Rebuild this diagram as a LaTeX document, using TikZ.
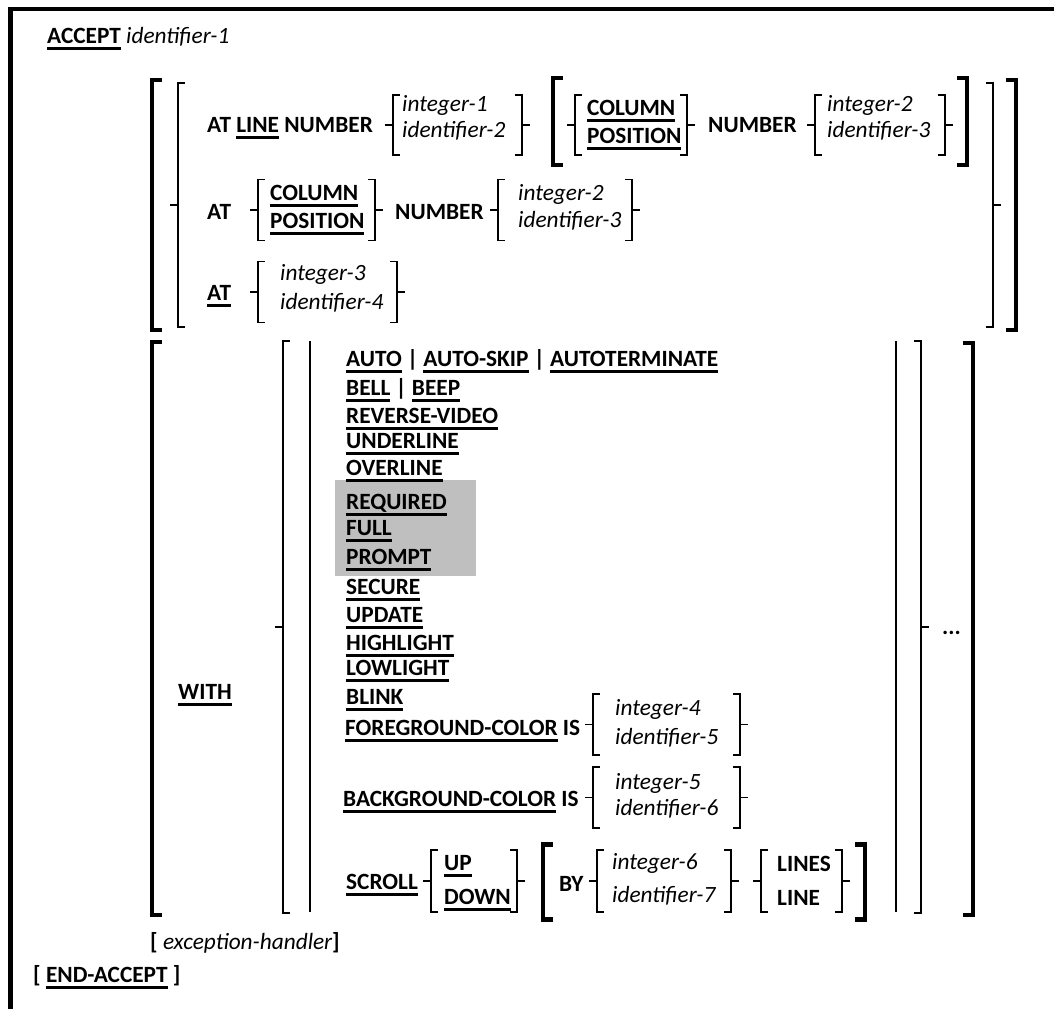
\documentclass[tikz,border=0pt]{standalone}
\usepackage{fontspec}
\setmainfont{Carlito}
\usepackage{tikz}
\newcommand{\kw}[1]{\setbox0\hbox{#1}\rlap{\rule[-6.5pt]{\wd0}{2.5pt}}\box0\relax}
\newcommand{\idf}[1]{{\mdseries\itshape #1}}
\tikzset{
    brthin/.style={line width=1.8pt},
    brthick/.style={line width=4.5pt},
    pics/lbrace/.style={code={\draw[brthin] (7,#1/2) -- (0,#1/2) -- (0,-#1/2) -- (7,-#1/2) (0,0) -- (-8,0);}},
    pics/rbrace/.style={code={\draw[brthin] (-7,#1/2) -- (0,#1/2) -- (0,-#1/2) -- (-7,-#1/2) (0,0) -- (8,0);}},
    pics/lbrack/.style={code={\draw[brthick] (10,#1/2) -- (0,#1/2) -- (0,-#1/2) -- (10,-#1/2);}},
    pics/rbrack/.style={code={\draw[brthick] (-10,#1/2) -- (0,#1/2) -- (0,-#1/2) -- (-10,-#1/2);}}
}
\begin{document}
\begin{tikzpicture}[x=1pt,y=-1pt,
    txt/.style={inner sep=0pt,anchor=west,text height=14.6pt,text depth=0pt,
        font=\fontsize{23.3}{27}\selectfont\bfseries}]
    \useasboundingbox (0,0) rectangle (1054,1009);
    \fill[black!25] (335,480) rectangle (476,576);
    \draw[line width=4.5pt] (10.5,1009) -- (10.5,9) -- (1054,9);

    \node[txt] at (47,36) (accept) {\kw{ACCEPT} \idf{identifier-1}};

    % AT ... phrases
    \pic at (152,205) {lbrack=250};
    \pic at (178,205) {lbrace=244};
    \node[txt] at (207,125) (atline) {AT \kw{LINE} NUMBER};
    \pic at (393,125) {lbrace=60};
    \node[txt] at (402,104) (int1) {\idf{integer-1}};
    \node[txt] at (402,130) (id2) {\idf{identifier-2}};
    \pic at (522,125) {rbrace=60};
    \pic at (553,121.5) {lbrack=87};
    \pic at (575,125) {lbrace=60};
    \node[txt] at (587,108) (col1) {\kw{COLUMN}};
    \node[txt] at (587,136) (pos1) {\kw{POSITION}};
    \pic at (687,125) {rbrace=60};
    \node[txt] at (708,125) (num1) {NUMBER};
    \pic at (815,125) {lbrace=60};
    \node[txt] at (827,104) (int2) {\idf{integer-2}};
    \node[txt] at (827,130) (id3) {\idf{identifier-3}};
    \pic at (945,125) {rbrace=60};
    \pic at (967,121.5) {rbrack=87};

    \node[txt] at (207,212) (at2) {AT};
    \pic at (258,210) {lbrace=61};
    \node[txt] at (270,193) (col2) {\kw{COLUMN}};
    \node[txt] at (270,221) (pos2) {\kw{POSITION}};
    \pic at (375,210) {rbrace=61};
    \node[txt] at (395,212) (num2) {NUMBER};
    \pic at (498,210) {lbrace=61};
    \node[txt] at (518,193) (int2b) {\idf{integer-2}};
    \node[txt] at (518,220) (id3b) {\idf{identifier-3}};
    \pic at (632,210) {rbrace=61};

    \node[txt] at (207,293) (at3) {\kw{AT}};
    \pic at (258,292) {lbrace=61};
    \node[txt] at (280,273) (int3) {\idf{integer-3}};
    \node[txt] at (280,302) (id4) {\idf{identifier-4}};
    \pic at (397,292) {rbrace=61};

    \pic at (993,205) {rbrace=244};
    \pic at (1016,205) {rbrack=250};

    % WITH ... attributes
    \pic at (152,628.5) {lbrack=573};
    \pic at (283,627) {lbrace=572};
    \draw[brthin] (310,341) -- (310,912);
    \node[txt] at (178,692) (with) {\kw{WITH}};
    \node[txt] at (346,359) (auto) {\kw{AUTO} | \kw{AUTO-SKIP} | \kw{AUTOTERMINATE}};
    \node[txt] at (346,388) (bell) {\kw{BELL} | \kw{BEEP}};
    \node[txt] at (346,416) (rev) {\kw{REVERSE-VIDEO}};
    \node[txt] at (346,441) (under) {\kw{UNDERLINE}};
    \node[txt] at (346,468) (over) {\kw{OVERLINE}};
    \node[txt] at (346,502) (req) {\kw{REQUIRED}};
    \node[txt] at (346,528) (full) {\kw{FULL}};
    \node[txt] at (346,557) (prompt) {\kw{PROMPT}};
    \node[txt] at (346,587) (secure) {\kw{SECURE}};
    \node[txt] at (346,615) (update) {\kw{UPDATE}};
    \node[txt] at (346,643) (high) {\kw{HIGHLIGHT}};
    \node[txt] at (346,668) (low) {\kw{LOWLIGHT}};
    \node[txt] at (346,697) (blink) {\kw{BLINK}};

    \node[txt] at (345,728) (fore) {\kw{FOREGROUND-COLOR} IS};
    \pic at (593,724.5) {lbrace=61};
    \node[txt] at (615,708) (int4) {\idf{integer-4}};
    \node[txt] at (615,737) (id5) {\idf{identifier-5}};
    \pic at (740,724.5) {rbrace=61};

    \node[txt] at (343,799) (back) {\kw{BACKGROUND-COLOR} IS};
    \pic at (593,797.5) {lbrace=61};
    \node[txt] at (615,782) (int5) {\idf{integer-5}};
    \node[txt] at (615,808) (id6) {\idf{identifier-6}};
    \pic at (740,797.5) {rbrace=61};

    \node[txt] at (346,882) (scroll) {\kw{SCROLL}};
    \pic at (431,881) {lbrace=62};
    \node[txt] at (444,863) (up) {\kw{UP}};
    \node[txt] at (444,897) (down) {\kw{DOWN}};
    \pic at (517,881) {rbrace=62};
    \pic at (543,882) {lbrack=75};
    \node[txt] at (559,884) (by) {BY};
    \pic at (597,881) {lbrace=62};
    \node[txt] at (612,862) (int6) {\idf{integer-6}};
    \node[txt] at (612,895) (id7) {\idf{identifier-7}};
    \pic at (731,881) {rbrace=62};
    \pic at (761,881) {lbrace=62};
    \node[txt] at (777,864) (lines) {LINES};
    \node[txt] at (777,898) (line) {LINE};
    \pic at (842,881) {rbrace=62};
    \pic at (865,882) {rbrack=75};

    \draw[brthin] (896,341) -- (896,912);
    \pic at (921,627) {rbrace=572};
    \node[txt] at (942,627) (dots) {...};
    \pic at (973,629) {rbrack=572};

    \node[txt] at (150,942) (exc) {[ \idf{exception-handler}]};
    \node[txt] at (33,975) (endacc) {[ \kw{END-ACCEPT} ]};
\end{tikzpicture}
\end{document}
